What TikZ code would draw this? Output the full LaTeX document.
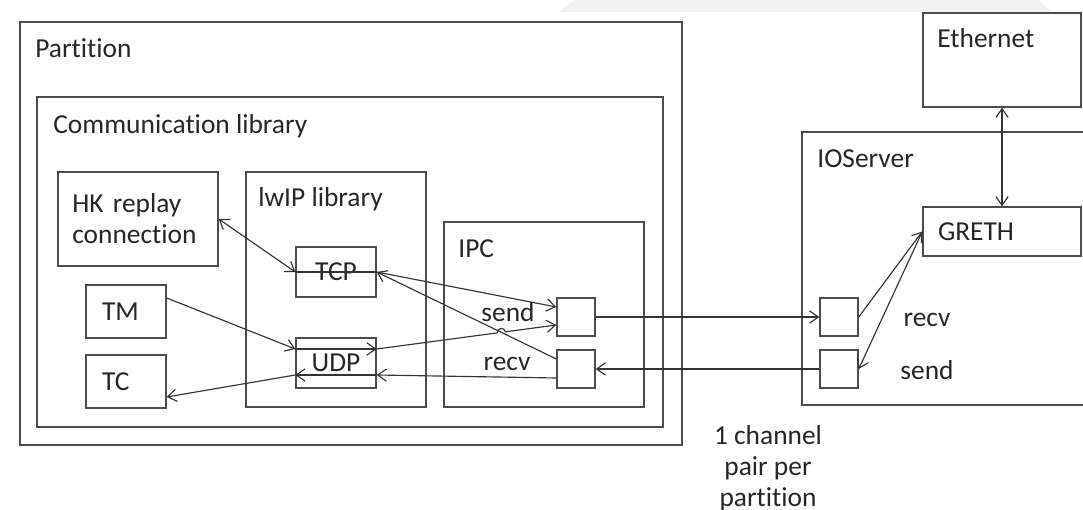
\documentclass[tikz,border=0pt]{standalone}
\usepackage{fontspec}
\setmainfont{Carlito}[Ligatures=NoCommon]
\usepackage{tikz}
\usetikzlibrary{positioning,arrows.meta,calc}
\usepackage{xcolor}

\begin{document}
\begin{tikzpicture}[
  every node/.style={font=\fontsize{15.6}{17.6}\selectfont, text=black!85},
  grp/.style={draw=black!70, line width=0.8pt, inner sep=0pt},
  blk/.style={draw=black!70, line width=0.8pt, inner sep=0pt, align=left},
  port/.style={draw=black!70, line width=0.8pt, minimum width=0.76cm, minimum height=0.76cm, inner sep=0pt},
  ttl/.style={anchor=base west, inner sep=0pt},
  wire/.style={draw=black!80, line width=0.65pt},
  >={Straight Barb[length=5pt,width=7pt]}
]
  \useasboundingbox (0,0) rectangle (21.66,10.2);
  \fill[gray!10] (11.16,9.96) -- (11.5,10.2) -- (20.76,10.2) -- (21.02,9.96) -- cycle;

  \node[grp, minimum width=13.24cm, minimum height=8.46cm] (part) at (7.02,5.53) {};
  \node[grp, minimum width=12.52cm, minimum height=6.6cm] (comm) at (7.00,4.96) {};
  \node[grp, minimum width=3.6cm, minimum height=4.7cm] (lwip) at (6.72,4.41) {};
  \node[grp, minimum width=4cm, minimum height=3.7cm] (ipc) at (10.88,3.91) {};
  \node[grp, minimum width=5.96cm, minimum height=5.46cm] (ios) at (19.02,4.83) {};

  \node[ttl] (partT) at (0.70,9.04) {Partition};
  \node[ttl] (commT) at (1.06,7.52) {Communication library};
  \node[ttl] (lwipT) at (5.16,6.06) {lwIP library};
  \node[ttl] (ipcT) at (9.16,5.04) {IPC};
  \node[ttl] (iosT) at (16.34,6.84) {IOServer};

  \node[blk, minimum width=3.2cm, minimum height=1.88cm] (hk) at (2.76,5.82) {};
  \node[ttl, text width=3cm, align=left] (hkT) at (1.44,5.94) {HK replay\\connection};
  \node[blk, minimum width=1.6cm, minimum height=1.06cm, text width=0.96cm] (tm) at (2.52,3.97) {TM};
  \node[blk, minimum width=1.6cm, minimum height=1.06cm, text width=0.96cm] (tc) at (2.52,2.57) {TC};
  \node[blk, minimum width=1.6cm, minimum height=1cm, align=center] (tcp) at (6.72,4.76) {TCP};
  \node[blk, minimum width=1.6cm, minimum height=1cm, align=center] (udp) at (6.72,2.94) {UDP};
  \node[port] (ipcS) at (11.52,3.86) {};
  \node[port] (ipcR) at (11.52,2.82) {};
  \node[port] (iosR) at (16.78,3.86) {};
  \node[port] (iosS) at (16.78,2.82) {};
  \node[blk, minimum width=3.16cm, minimum height=0.98cm, text width=2.56cm] (greth) at (20.04,5.57) {GRETH};
  \node[blk, minimum width=3.16cm, minimum height=1.88cm] (eth) at (20.04,9.0) {};
  \node[ttl] (ethT) at (18.74,9.24) {Ethernet};

  \node (sendL) at (10.16,3.96) {send};
  \node (recvL) at (10.14,2.92) {recv};
  \node (recvR) at (18.54,3.80) {recv};
  \node (sendR) at (18.54,2.80) {send};
  \node[align=center] (chan) at (15.36,0.84) {1 channel\\pair per\\partition};

  \coordinate (u1) at ([yshift=0.28cm]udp.east);
  \coordinate (s1) at ([yshift=-0.16cm]ipcS.west);

  \draw[wire, <->] (hk.east) -- (tcp.west);
  \draw[wire] (tcp.west) -- (tcp.east);
  \draw[wire, ->] (tcp.east) -- ([yshift=0.2cm]ipcS.west);
  \draw[wire, ->] ([yshift=0.2cm]ipcR.west) -- (tcp.east);
  \draw[wire, ->] ([yshift=0.27cm]tm.east) -- ([yshift=0.28cm]udp.west);
  \draw[wire, ->] ([yshift=0.28cm]udp.west) -- (u1);
  \draw[wire, ->] (u1) -- ($(u1)!0.672!(s1)$) arc[start angle=187.6, end angle=7.6, radius=0.08] -- (s1);
  \draw[wire, ->] ([yshift=-0.18cm]ipcR.west) -- ([yshift=-0.24cm]udp.east);
  \draw[wire, ->] ([yshift=-0.24cm]udp.east) -- ([yshift=-0.24cm]udp.west);
  \draw[wire, ->] ([yshift=-0.24cm]udp.west) -- ([yshift=-0.31cm]tc.east);
  \draw[wire, ->] (ipcS) -- (iosR);
  \draw[wire, ->] (iosS) -- (ipcR);
  \draw[wire, ->] (iosR.east) -- (greth.west);
  \draw[wire, ->] (greth.west) -- (iosS.east);
  \draw[wire, <->] (eth) -- (greth);
\end{tikzpicture}
\end{document}
